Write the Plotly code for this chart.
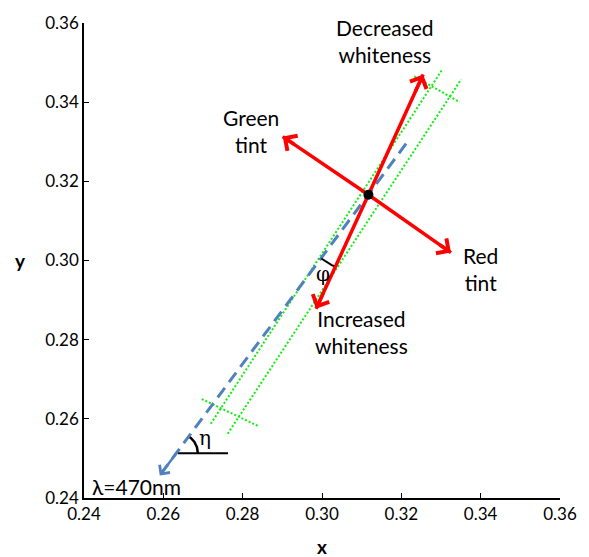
import numpy as np
import plotly.graph_objects as go

# ---- data (chromaticity coordinates) ----
x_ticks = [0.24, 0.26, 0.28, 0.30, 0.32, 0.34, 0.36]
y_ticks = [0.24, 0.26, 0.28, 0.30, 0.32, 0.34, 0.36]
tick_text = ["0.24", "0.26", "0.28", "0.30", "0.32", "0.34", "0.36"]

center_x = [0.3117]
center_y = [0.3166]

arrow_names = ["Decreased whiteness", "Increased whiteness", "Green tint", "Red tint"]
arrow_tip_x = [0.3255, 0.2985, 0.2901, 0.3325]
arrow_tip_y = [0.3470, 0.2878, 0.3313, 0.3020]

blue_x = [0.3212, 0.2591]
blue_y = [0.3295, 0.2457]

green1_x = [0.27195, 0.33032]
green1_y = [0.25875, 0.34825]
green2_x = [0.27623, 0.33509]
green2_y = [0.25625, 0.34575]
cross_top_x = [0.32327, 0.33474]
cross_top_y = [0.3465, 0.3400]
cross_bot_x = [0.26969, 0.28377]
cross_bot_y = [0.2650, 0.25825]

eta_line_x = [0.2637, 0.2763]
eta_line_y = [0.25133, 0.25133]
eta_arc_r = 0.005
eta_arc_deg = [0.0, 53.6]
phi_arc_r = 0.02
phi_arc_deg = [233.6, 245.4]

labels = [
    ("Decreased<br>whiteness", 0.3160, 0.3555),
    ("Green<br>tint", 0.2820, 0.3328),
    ("Red<br>tint", 0.3399, 0.2978),
    ("Increased<br>whiteness", 0.3100, 0.2819),
]
lambda_label = ("λ=470nm", 0.24151, 0.2430)
eta_label = ("η", 0.27057, 0.2552)
phi_label = ("φ", 0.3002, 0.2966)

FONT = "Lato"
RED = "#ff0000"
BLUE = "#4f81bd"
GREEN = "#11ee11"

fig = go.Figure()

# green dotted lines
for gx, gy in [(green1_x, green1_y), (green2_x, green2_y),
               (cross_top_x, cross_top_y), (cross_bot_x, cross_bot_y)]:
    fig.add_trace(go.Scatter(x=gx, y=gy, mode="lines",
                             line=dict(color=GREEN, width=2, dash="2px,2px"),
                             hoverinfo="skip", showlegend=False))

# blue dashed line
fig.add_trace(go.Scatter(x=blue_x, y=blue_y, mode="lines",
                         line=dict(color=BLUE, width=3, dash="12px,7px"),
                         hoverinfo="skip", showlegend=False))

# eta horizontal line
fig.add_trace(go.Scatter(x=eta_line_x, y=eta_line_y, mode="lines",
                         line=dict(color="black", width=2),
                         hoverinfo="skip", showlegend=False))

# eta arc
t = np.radians(np.linspace(eta_arc_deg[0], eta_arc_deg[1], 30))
fig.add_trace(go.Scatter(x=eta_line_x[0] + eta_arc_r * np.cos(t),
                         y=eta_line_y[0] + eta_arc_r * np.sin(t),
                         mode="lines", line=dict(color="black", width=2.5),
                         hoverinfo="skip", showlegend=False))

# phi arc
t = np.radians(np.linspace(phi_arc_deg[0], phi_arc_deg[1], 30))
fig.add_trace(go.Scatter(x=center_x[0] + phi_arc_r * np.cos(t),
                         y=center_y[0] + phi_arc_r * np.sin(t),
                         mode="lines", line=dict(color="black", width=2),
                         hoverinfo="skip", showlegend=False))

# red arrow shafts
for tx, ty in zip(arrow_tip_x, arrow_tip_y):
    fig.add_trace(go.Scatter(x=[center_x[0], tx], y=[center_y[0], ty], mode="lines",
                             line=dict(color=RED, width=3.5),
                             hoverinfo="skip", showlegend=False))

# center point
fig.add_trace(go.Scatter(x=center_x, y=center_y, mode="markers",
                         marker=dict(color="black", size=10),
                         hoverinfo="skip", showlegend=False))

annotations = []
# red arrowheads
frac = 0.15
for tx, ty in zip(arrow_tip_x, arrow_tip_y):
    annotations.append(dict(x=tx, y=ty,
                            ax=tx + frac * (center_x[0] - tx),
                            ay=ty + frac * (center_y[0] - ty),
                            xref="x", yref="y", axref="x", ayref="y",
                            showarrow=True, arrowhead=4, arrowsize=1.0,
                            arrowwidth=3.5, arrowcolor=RED, text=""))

# blue arrowhead
frac = 0.08
annotations.append(dict(x=blue_x[1], y=blue_y[1],
                        ax=blue_x[1] + frac * (blue_x[0] - blue_x[1]),
                        ay=blue_y[1] + frac * (blue_y[0] - blue_y[1]),
                        xref="x", yref="y", axref="x", ayref="y",
                        showarrow=True, arrowhead=4, arrowsize=1.0,
                        arrowwidth=2.5, arrowcolor=BLUE, text=""))

for txt, lx, ly in labels:
    annotations.append(dict(x=lx, y=ly, xref="x", yref="y", text=txt,
                            showarrow=False, xanchor="center", yanchor="middle",
                            font=dict(family=FONT, size=21, color="black")))

annotations.append(dict(x=lambda_label[1], y=lambda_label[2], xref="x", yref="y",
                        text=lambda_label[0], showarrow=False,
                        xanchor="left", yanchor="middle",
                        font=dict(family=FONT, size=21, color="black")))
for lab in (eta_label, phi_label):
    annotations.append(dict(x=lab[1], y=lab[2], xref="x", yref="y", text=lab[0],
                            showarrow=False, xanchor="center", yanchor="middle",
                            font=dict(family="DejaVu Serif", size=20, color="black")))

# axis titles
annotations.append(dict(x=0.5, y=0.0, xref="paper", yref="paper", text="<b>x</b>",
                        showarrow=False, xanchor="center", yanchor="middle", yshift=-48,
                        font=dict(family=FONT, size=19, color="black")))
annotations.append(dict(x=0.0, y=0.5, xref="paper", yref="paper", text="<b>y</b>",
                        showarrow=False, xanchor="center", yanchor="middle", xshift=-64,
                        font=dict(family=FONT, size=19, color="black")))

fig.update_layout(
    width=589, height=557,
    margin=dict(l=84, r=28, t=18, b=59),
    paper_bgcolor="white", plot_bgcolor="white",
    annotations=annotations,
    showlegend=False,
)
axis_common = dict(showgrid=False, zeroline=False, showline=True, linecolor="black",
                   linewidth=1.5, ticks="inside", ticklen=5, tickwidth=1,
                   tickcolor="black", tickfont=dict(family=FONT, size=17, color="black"))
fig.update_xaxes(range=[0.24, 0.36], tickvals=x_ticks, ticktext=tick_text, **axis_common)
fig.update_yaxes(range=[0.24, 0.36], tickvals=y_ticks, ticktext=tick_text, **axis_common)

fig.write_html("out.html")
